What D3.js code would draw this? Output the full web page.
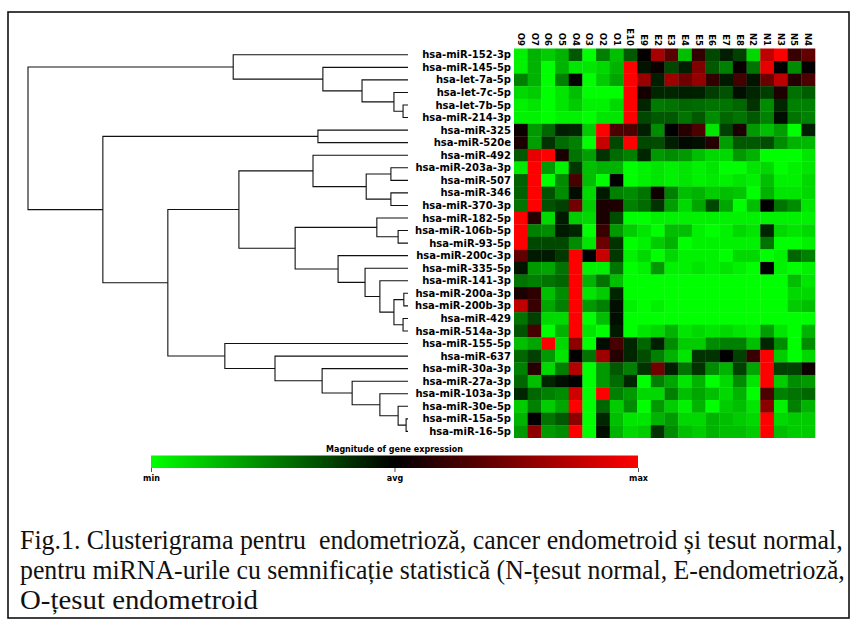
<!DOCTYPE html>
<html>
<head>
<meta charset="utf-8">
<script src="https://cdn.jsdelivr.net/npm/d3@7"></script>
<style>
  body { margin: 0; background: #fff; }
  svg { display: block; }
</style>
</head>
<body>
<div id="chart-area"></div>
<script>

// row labels (top to bottom, in dendrogram order)
const rowLabels = [
	"hsa-miR-152-3p", "hsa-miR-145-5p", "hsa-let-7a-5p", "hsa-let-7c-5p", "hsa-let-7b-5p",
	"hsa-miR-214-3p", "hsa-miR-325", "hsa-miR-520e", "hsa-miR-492", "hsa-miR-203a-3p",
	"hsa-miR-507", "hsa-miR-346", "hsa-miR-370-3p", "hsa-miR-182-5p", "hsa-miR-106b-5p",
	"hsa-miR-93-5p", "hsa-miR-200c-3p", "hsa-miR-335-5p", "hsa-miR-141-3p", "hsa-miR-200a-3p",
	"hsa-miR-200b-3p", "hsa-miR-429", "hsa-miR-514a-3p", "hsa-miR-155-5p", "hsa-miR-637",
	"hsa-miR-30a-3p", "hsa-miR-27a-3p", "hsa-miR-103a-3p", "hsa-miR-30e-5p", "hsa-miR-15a-5p",
	"hsa-miR-16-5p"
];

// sample columns
const colLabels = ["O9", "O7", "O6", "O5", "O4", "O3", "O2", "O1", "E10", "E9", "E2",
	"E3", "E4", "E5", "E6", "E7", "E8", "N2", "N1", "N3", "N5", "N4"];

// scaled expression, -1 = min (green), 0 = avg (black), 1 = max (red)
const expression = [
	[-0.95,-0.7,-0.8,-0.7,-0.35,-1,-0.5,-0.75,-0.35,0.02,0.65,0.35,-0.75,0.2,-0.28,-0.12,-0.25,-0.85,0.75,1,0.22,0.38],
	[-0.95,-0.7,-1,-0.7,-0.9,-0.9,-0.85,-0.7,1,-0.08,0.04,-0.28,-0.12,0.5,-0.35,-0.5,0.03,-0.45,0.9,0,-0.55,0.02],
	[-0.5,-0.7,-1,-0.5,0,-1,-0.8,-0.65,1,0.6,-0.12,0.62,0.43,0.58,0.2,-0.1,0.27,-0.08,0.42,0.75,0.15,0.3],
	[-0.85,-0.8,-1,-0.9,-0.75,-1,-1,-1,1,0.08,-0.15,-0.15,-0.12,-0.13,-0.24,-0.32,-0.06,-0.15,-0.24,0.12,-0.44,-0.36],
	[-0.95,-0.9,-1,-0.9,-0.8,-0.95,-0.95,-0.85,1,-0.15,-0.48,-0.45,-0.4,-0.42,-0.45,-0.45,-0.4,-0.2,-0.55,-0.15,-0.5,-0.5],
	[-0.95,-0.95,-1,-0.95,-0.95,-1,-0.9,-0.9,1,-0.28,-0.35,-0.35,-0.45,-0.35,-0.55,-0.4,-0.45,-0.35,-0.5,-0.05,-0.45,-0.5],
	[0.05,-0.6,-0.4,-0.12,-0.15,-0.8,1,0.3,0.3,-0.12,-0.55,0,0.15,0.3,-0.9,-0.25,0.1,-0.6,-0.75,-0.62,-1,-0.12],
	[0.1,-0.62,-0.2,-0.42,-0.5,-1,0.78,-0.28,1,-0.28,-0.3,-0.12,-0.04,-0.06,0.15,-0.62,-0.35,-0.35,-0.3,-0.55,-0.7,-0.72],
	[-0.35,0.9,1,0.1,-0.45,-0.62,-0.2,-0.42,-0.5,-0.15,-0.6,-0.55,-0.6,-0.75,-0.85,-0.85,-0.6,-0.7,-1,-1,-1,-0.9],
	[-0.92,1,-0.6,-0.95,-0.22,-0.75,-0.7,-0.7,-1,-0.95,-0.9,-0.95,-0.9,-0.95,-0.9,-1,-1,-0.9,-0.85,-1,-0.95,-0.9],
	[-0.38,1,-1,-0.55,0.28,-0.75,-1,0,-1,-0.95,-0.9,-0.95,-0.9,-0.95,-0.92,-0.95,-0.9,-0.95,-0.75,-0.95,-0.95,-0.85],
	[-0.38,1,-0.32,-0.55,-0.05,-0.85,-0.1,-0.5,-0.55,-0.45,0.06,-0.5,-0.75,-0.7,-0.8,-0.75,-0.78,-1,-0.7,-0.9,-0.9,-0.85],
	[-0.45,1,-0.32,-0.25,0.45,-0.8,0.1,0.12,-0.5,-0.42,-0.2,-0.62,-0.85,-0.65,-0.28,-0.65,-1,-0.75,0,-0.45,-0.55,-0.9],
	[1,0.15,-0.85,-0.1,-0.8,-0.85,0.1,-0.3,-1,-1,-0.95,-0.95,-0.95,-0.95,-0.95,-0.95,-0.95,-0.95,-0.95,-0.95,-0.95,-0.95],
	[1,-0.5,-0.55,-0.1,-0.15,-1,0.22,-0.6,-0.8,-0.9,-1,-0.75,-0.75,-0.95,-1,-0.95,-0.85,-0.9,-0.15,-0.85,-0.9,-0.85],
	[1,-0.28,-0.28,-0.28,-0.55,-0.9,0.42,-0.2,-1,-0.95,-0.8,-0.7,-1,-0.95,-0.95,-0.95,-0.95,-0.95,-0.45,-1,-1,-0.95],
	[0.38,-0.1,-0.1,-0.22,1,0,0.78,-0.22,-0.95,-0.85,-1,-0.85,-0.95,-0.95,-0.95,-1,-0.85,-0.85,-1,-0.95,-0.4,-0.5],
	[-0.08,-0.6,-0.65,-0.45,1,-0.95,-0.95,-0.45,-1,-0.95,-0.6,-0.95,-0.95,-0.9,-0.95,-0.9,-0.95,-1,0,-0.95,-1,-0.95],
	[-0.45,-0.5,-0.45,-0.4,1,-0.7,-0.45,-0.75,-1,-1,-1,-1,-1,-1,-1,-1,-1,-1,-1,-1,-0.75,-0.9],
	[0.1,0.18,-0.75,-0.55,1,-0.9,-0.8,-0.15,-1,-1,-1,-1,-1,-1,-1,-1,-1,-1,-1,-1,-0.85,-0.85],
	[0.75,0.22,-0.65,-0.5,1,-0.6,-0.5,-0.06,-0.95,-1,-0.95,-1,-1,-1,-1,-1,-1,-1,-1,-1,-0.8,-0.75],
	[-0.45,-0.25,-0.85,-0.85,1,-1,-0.75,-0.06,-1,-1,-1,-1,-1,-1,-1,-1,-1,-1,-1,-1,-1,-1],
	[-0.32,0.28,-1,-0.7,1,-0.9,-1,-0.1,-1,-0.9,-0.85,-0.7,-0.9,-0.85,-0.9,-0.85,-0.9,-0.95,-0.62,-0.9,-1,-0.7],
	[-0.75,-0.65,1,-0.85,0.55,-1,-0.05,0.28,-0.15,-0.4,-0.12,-0.55,-0.8,-0.8,-0.55,-0.5,-0.5,-0.75,-0.15,-0.55,-1,-0.55],
	[-0.4,-0.25,-0.6,-0.9,0,-0.45,0.62,0.15,-0.15,-0.3,-0.5,-0.7,-0.9,-0.2,-0.2,0,-0.25,0.22,1,-0.8,-1,-0.85],
	[-0.5,0.15,-0.85,-0.5,0.7,-1,-0.6,-0.35,-0.5,-0.2,0.45,-0.12,-0.45,-0.2,-0.55,-0.7,-0.25,-0.65,1,-0.25,-0.25,0.06],
	[-0.4,-0.75,-0.15,-0.06,0,-1,-0.6,-0.42,-0.15,-1,-0.5,-0.65,-0.9,-0.7,-1,-0.85,-0.55,-0.9,1,-0.8,-0.55,-0.6],
	[-0.15,-0.4,-0.5,-0.55,0.82,-1,1,-0.5,-0.6,-0.85,-0.85,-0.5,-0.75,-0.65,-0.75,-0.85,-0.7,-1,0.3,-0.5,-0.45,-0.4],
	[-0.8,-0.5,-0.8,-0.65,1,-1,-0.4,-0.8,-0.55,-1,-0.6,-0.8,-0.95,-0.7,-1,-0.8,-0.75,-0.9,0.55,-0.95,-0.5,-0.7],
	[-0.7,0,-0.45,-0.35,0.55,-1,-0.15,-0.75,-0.9,-0.9,-0.7,-0.6,-0.85,-0.85,-0.7,-0.75,-0.8,-0.85,1,-0.85,-0.8,-0.8],
	[-0.6,0.55,-0.6,-0.55,1,-1,-0.05,-0.7,-0.85,-0.8,-0.2,-0.55,-0.75,-0.8,-0.7,-0.75,-0.75,-0.8,1,-0.75,-0.8,-0.8]
];

// hierarchical clustering merges: [childA, childB, height]
// ids < 31 are rows, id 31 + k is the cluster made at merge k
const merges = [
	[29, 30, 0.005], [19, 20, 0.011], [21, 22, 0.013], [4, 5, 0.013], [14, 15, 0.026],
	[28, 31, 0.026], [32, 33, 0.037], [3, 34, 0.037], [9, 10, 0.045], [11, 12, 0.045],
	[18, 37, 0.074], [27, 36, 0.074], [13, 35, 0.082], [39, 40, 0.11], [17, 41, 0.113],
	[2, 38, 0.121], [26, 42, 0.147], [16, 45, 0.184], [1, 46, 0.224], [25, 47, 0.226],
	[6, 7, 0.237], [8, 44, 0.25], [43, 48, 0.297], [24, 50, 0.35], [52, 53, 0.445],
	[0, 49, 0.46], [23, 54, 0.482], [55, 57, 0.632], [51, 58, 0.803], [56, 59, 1.0]
];

const legendLabels = ["min", "avg", "max"];

const captionLines = [
	"Fig.1. Clusterigrama pentru  endometrioză, cancer endometroid și tesut normal,",
	"pentru miRNA-urile cu semnificație statistică (N-țesut normal, E-endometrioză,",
	"O-țesut endometroid"
];

let W = 851, H = 623;

let svg = d3.select("#chart-area").append("svg")
	.attr("width", W)
	.attr("height", H);

// frame round the whole figure
svg.append("rect")
	.attr("x", 8).attr("y", 12)
	.attr("width", 841).attr("height", 606)
	.attr("fill", "none")
	.attr("stroke", "#111")
	.attr("stroke-width", 1.6);

// scales
let xScale = d3.scaleBand().domain(colLabels).range([514, 815]);
let yScale = d3.scaleBand().domain(rowLabels).range([48.5, 437.7]);
let color = d3.scaleLinear().domain([-1, 0, 1]).range(["#00ff00", "#000000", "#ff0000"]);
let hScale = d3.scaleLinear().domain([0, 1]).range([408, 28]);

// heatmap cells
let cells = [];
expression.forEach((row, i) => {
	row.forEach((v, j) => cells.push({row: rowLabels[i], col: colLabels[j], value: v}));
});

svg.append("g")
	.selectAll("rect")
	.data(cells)
	.enter()
	.append("rect")
	.attr("x", d => xScale(d.col))
	.attr("y", d => yScale(d.row))
	.attr("width", xScale.bandwidth() + 0.3)
	.attr("height", yScale.bandwidth() + 0.3)
	.attr("fill", d => color(d.value));

// column labels, rotated
svg.append("g")
	.selectAll("text")
	.data(colLabels)
	.enter()
	.append("text")
	.attr("transform", d => "translate(" + (xScale(d) + xScale.bandwidth() / 2) + ",46) rotate(90)")
	.attr("dy", "0.35em")
	.attr("text-anchor", "end")
	.style("font-family", "DejaVu Sans")
	.style("font-weight", "bold")
	.style("font-size", "8.5px")
	.text(d => d);

// row labels
svg.append("g")
	.selectAll("text")
	.data(rowLabels)
	.enter()
	.append("text")
	.attr("x", 511)
	.attr("y", d => yScale(d) + yScale.bandwidth() / 2)
	.attr("dy", "0.36em")
	.attr("text-anchor", "end")
	.style("font-family", "DejaVu Sans")
	.style("font-weight", "bold")
	.style("font-size", "10px")
	.text(d => d);

// dendrogram: node positions from leaves and merges
let nodes = rowLabels.map(r => ({y: yScale(r) + yScale.bandwidth() / 2, h: 0}));
let links = [];
merges.forEach(m => {
	let a = nodes[m[0]], b = nodes[m[1]];
	nodes.push({y: (a.y + b.y) / 2, h: m[2]});
	links.push({a: a, b: b, h: m[2]});
});

svg.append("g")
	.selectAll("path")
	.data(links)
	.enter()
	.append("path")
	.attr("d", d => "M" + hScale(d.a.h) + "," + d.a.y +
		"H" + hScale(d.h) + "V" + d.b.y + "H" + hScale(d.b.h))
	.attr("fill", "none")
	.attr("stroke", "#111")
	.attr("stroke-width", 1.1);

// legend
let legendScale = d3.scaleLinear().domain([-1, 1]).range([151, 638]);

let grad = svg.append("defs").append("linearGradient").attr("id", "expr-grad");
grad.selectAll("stop")
	.data([-1, 0, 1])
	.enter()
	.append("stop")
	.attr("offset", d => ((d + 1) / 2 * 100) + "%")
	.attr("stop-color", d => color(d));

svg.append("rect")
	.attr("x", legendScale(-1)).attr("y", 455.5)
	.attr("width", legendScale(1) - legendScale(-1)).attr("height", 12.5)
	.attr("fill", "url(#expr-grad)");

svg.append("text")
	.attr("x", legendScale(0)).attr("y", 452)
	.attr("text-anchor", "middle")
	.style("font-family", "DejaVu Sans")
	.style("font-weight", "bold")
	.style("font-size", "8px")
	.text("Magnitude of gene expression");

let legendAxis = d3.axisBottom(legendScale)
	.tickValues([-1, 0, 1])
	.tickSize(4)
	.tickFormat((d, i) => legendLabels[i]);

let legendGroup = svg.append("g")
	.attr("transform", "translate(0,468)")
	.call(legendAxis);
legendGroup.select(".domain").remove();
legendGroup.selectAll("line").attr("stroke", "#555");
legendGroup.selectAll("text")
	.attr("y", 7)
	.attr("dy", "0.71em")
	.style("font-family", "DejaVu Sans")
	.style("font-weight", "bold")
	.style("font-size", "8px")
	.attr("fill", "#000");

// caption - condensed serif, squeezed to the widths seen in the figure
let captionWidths = [823, 825, 238];
svg.append("g")
	.selectAll("text")
	.data(captionLines)
	.enter()
	.append("text")
	.style("white-space", "pre")
	.style("font-family", "Liberation Serif")
	.style("font-size", "27px")
	.attr("fill", "#111")
	.text(d => d)
	.attr("transform", function(d, i) {
		let natural = this.getComputedTextLength();
		return "translate(20," + (549 + i * 30) + ") scale(" + (captionWidths[i] / natural) + ",1)";
	});

</script>
</body>
</html>
